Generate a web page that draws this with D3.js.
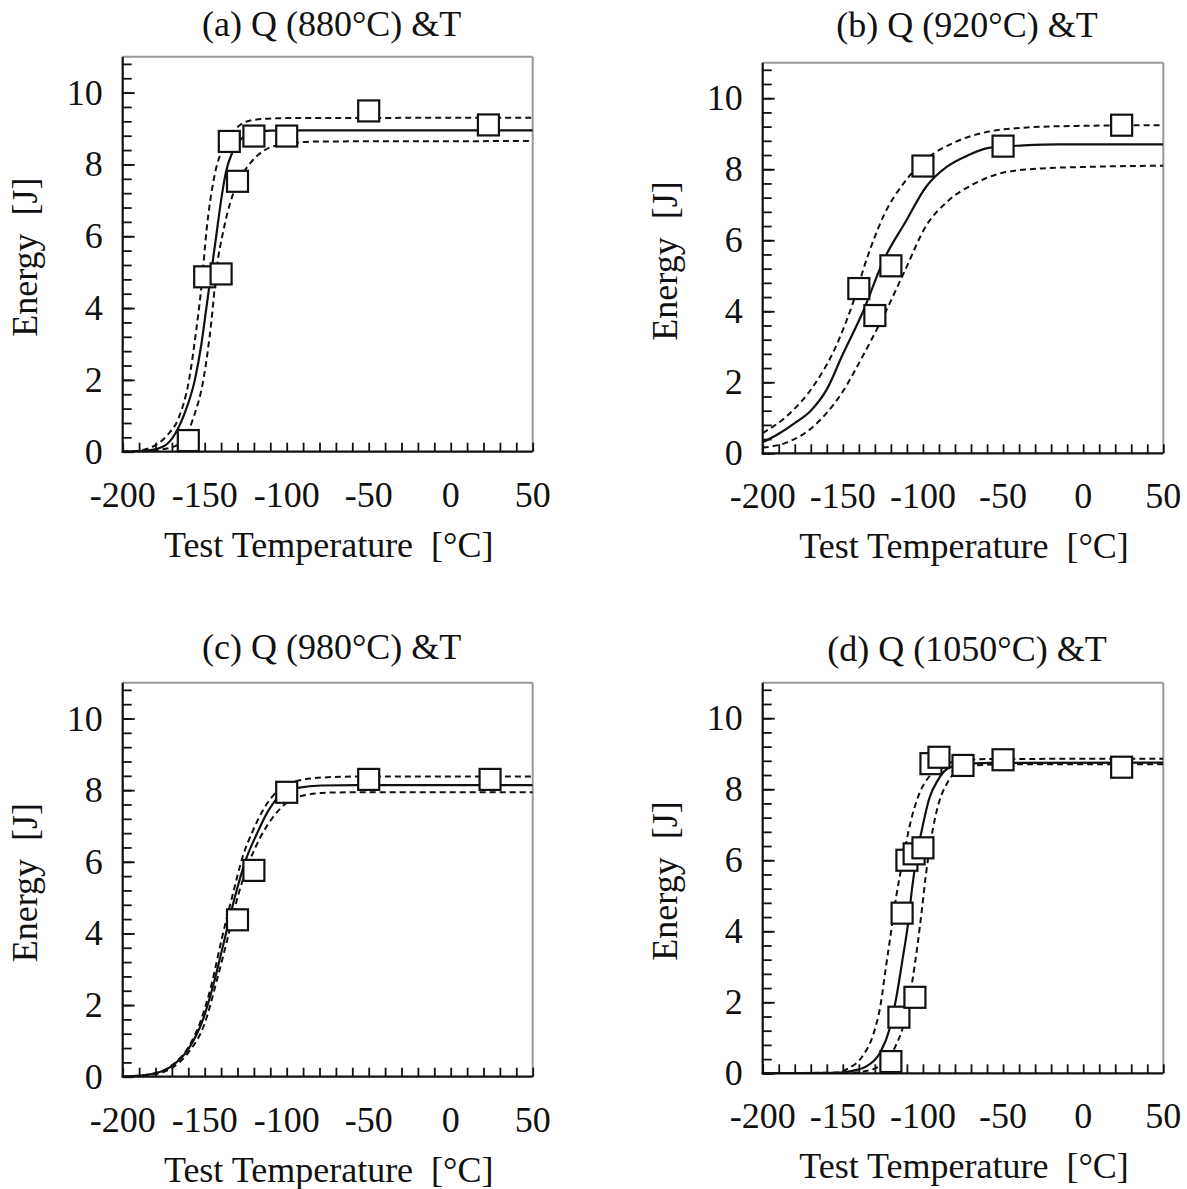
<!DOCTYPE html>
<html>
<head>
<meta charset="utf-8">
<script src="https://cdn.jsdelivr.net/npm/d3@7/dist/d3.min.js"></script>
<style>
  html, body { margin: 0; padding: 0; background: #fff; }
  svg { display: block; }
  text { font-family: "Liberation Serif", "Times New Roman", serif; fill: #111; }
</style>
</head>
<body>
<svg id="chart" width="1187" height="1189"></svg>
<script>
// ---------------- DATA ----------------
const panelTitles = ["(a) Q (880°C) &T", "(b) Q (920°C) &T", "(c) Q (980°C) &T", "(d) Q (1050°C) &T"];
const xTickValues = [-200, -150, -100, -50, 0, 50];
const yTickValues = [0, 2, 4, 6, 8, 10];
const xLabel = "Test Temperature  [°C]";
const yLabel = "Energy  [J]";

// measured points (test temperature °C, absorbed energy J)
const aPointsT = [-160, -150, -140, -135, -130, -120, -100, -50, 23];
const aPointsE = [0.31, 4.87, 4.95, 8.64, 7.53, 8.79, 8.79, 9.49, 9.10];
const bPointsT = [-140, -130, -120, -100, -50, 24];
const bPointsE = [4.64, 3.88, 5.28, 8.09, 8.65, 9.24];
const cPointsT = [-130, -120, -100, -50, 24];
const cPointsE = [4.38, 5.76, 7.94, 8.30, 8.30];
const dPointsT = [-120, -115, -105, -113, -110, -105.5, -100, -95, -90, -75, -50, 24];
const dPointsE = [0.33, 1.58, 2.14, 4.51, 6.00, 6.18, 6.35, 8.72, 8.90, 8.67, 8.83, 8.62];

// fitted curves: [T, E]
const aMean  = [[-200,0],[-185,0.03],[-175,0.15],[-168,0.5],[-162,1.1],[-156,2.0],[-152,3.0],[-149,4.0],[-146,5.0],[-143,6.0],[-140,7.0],[-137,7.8],[-133,8.35],[-128,8.7],[-120,8.88],[-110,8.94],[-90,8.95],[50,8.95]];
const aUpper = [[-200,0],[-190,0.03],[-183.7,0.1],[-172.8,0.46],[-166,0.93],[-159.7,1.96],[-155.4,3.3],[-152,4.6],[-148.8,6.2],[-144.4,7.6],[-139,8.46],[-131.4,8.98],[-120.5,9.24],[-101,9.29],[50,9.3]];
const aLower = [[-200,0],[-190,0.01],[-178,0.05],[-166,0.2],[-157,0.93],[-150.6,2.06],[-146,3.6],[-142.8,5.06],[-138.4,6.2],[-134,7.0],[-128.6,7.6],[-122,8.05],[-113.4,8.4],[-101,8.57],[-79,8.64],[50,8.65]];

const bMean  = [[-200,0.31],[-190,0.55],[-180,0.85],[-170,1.2],[-160,1.8],[-150.3,2.76],[-137.3,4.0],[-124.2,5.47],[-111.1,6.5],[-98.1,7.5],[-85,8.07],[-72,8.39],[-58.9,8.6],[-37,8.67],[-15.3,8.7],[50,8.7]];
const bUpper = [[-200,0.57],[-185.2,1.04],[-167.8,1.93],[-154.7,2.97],[-143.8,4.22],[-135.1,5.47],[-124.2,6.72],[-111.1,7.66],[-98.1,8.28],[-80.7,8.75],[-58.9,9.06],[-37,9.17],[-4.4,9.22],[50,9.24]];
const bLower = [[-200,0.16],[-185.2,0.3],[-167.8,0.78],[-150.3,1.72],[-137.3,2.76],[-124.2,3.9],[-111.1,5.16],[-98.1,6.4],[-85,7.08],[-67.6,7.6],[-50.2,7.9],[-26.2,8.02],[6.4,8.07],[50,8.1]];

const cMean  = [[-200,0],[-181.5,0.08],[-170.6,0.28],[-159.7,0.79],[-151,1.6],[-144.5,2.6],[-137.9,3.83],[-131.4,5.05],[-124.9,6.06],[-118.3,6.77],[-111.8,7.38],[-103.1,7.89],[-92.2,8.07],[-79.1,8.13],[-57.4,8.14],[50,8.14]];
const cUpper = [[-200,0],[-181.5,0.08],[-170.6,0.3],[-159.7,0.84],[-152.1,1.6],[-145.6,2.62],[-139.7,3.83],[-133.1,5.05],[-127,6.12],[-120.5,6.88],[-114,7.48],[-105.3,7.99],[-94.4,8.25],[-79.1,8.35],[-57.4,8.38],[50,8.38]];
const cLower = [[-200,0],[-181.5,0.06],[-170.6,0.23],[-159.7,0.69],[-149.9,1.5],[-143,2.62],[-136.2,3.83],[-129.7,5.05],[-122.7,6.01],[-116.2,6.67],[-108.6,7.23],[-98.8,7.69],[-87.9,7.87],[-74.9,7.93],[-57.4,7.94],[50,7.94]];

const dMean  = [[-200,0],[-154.7,0.01],[-143.8,0.07],[-135.1,0.2],[-126.4,0.61],[-121,1.22],[-116.6,2.14],[-112.9,3.16],[-109.4,4.18],[-106.8,5.2],[-103.5,6.22],[-100.3,6.94],[-95.9,7.76],[-90.5,8.27],[-85,8.57],[-76.3,8.7],[-58.9,8.74],[50,8.75]];
const dUpper = [[-200,0],[-154.7,0.02],[-146,0.15],[-137.3,0.51],[-130.8,1.12],[-126.4,1.94],[-123.2,2.96],[-119.9,3.98],[-116.6,5.0],[-112.9,5.92],[-107.9,7.04],[-102.4,7.86],[-95.9,8.37],[-87.2,8.67],[-76.3,8.81],[-58.9,8.85],[50,8.86]];
const dLower = [[-200,0],[-148.2,0.01],[-137.3,0.05],[-126.4,0.22],[-117.7,0.71],[-111.1,1.53],[-106.8,2.55],[-103.5,3.57],[-100.7,4.59],[-98.1,5.61],[-94.8,6.63],[-90.5,7.55],[-85,8.16],[-78.5,8.52],[-67.6,8.67],[-48,8.7],[50,8.7]];

// ---------------- LAYOUT ----------------
const panels = [
  { title: panelTitles[0], left: 122.7, right: 532.7, top: 56.7, bottom: 451.7, titleY: 36,
    T: aPointsT, E: aPointsE, mean: aMean, upper: aUpper, lower: aLower },
  { title: panelTitles[1], left: 762.7, right: 1163.3, top: 62.7, bottom: 453.3, titleY: 37,
    T: bPointsT, E: bPointsE, mean: bMean, upper: bUpper, lower: bLower },
  { title: panelTitles[2], left: 122.7, right: 532.7, top: 682.7, bottom: 1076.7, titleY: 659,
    T: cPointsT, E: cPointsE, mean: cMean, upper: cUpper, lower: cLower },
  { title: panelTitles[3], left: 762.7, right: 1163.3, top: 682.7, bottom: 1073.3, titleY: 661,
    T: dPointsT, E: dPointsE, mean: dMean, upper: dUpper, lower: dLower }
];

const FS = 36;
const svg = d3.select("#chart");
const defs = svg.append("defs");

panels.forEach((p, i) => {
  const x = d3.scaleLinear().domain([-200, 50]).range([p.left, p.right]);
  const y = d3.scaleLinear().domain([0, 11]).range([p.bottom, p.top]);
  const g = svg.append("g");
  const cx = (p.left + p.right) / 2;
  const cy = (p.top + p.bottom) / 2;

  defs.append("clipPath").attr("id", "clip" + i)
    .append("rect").attr("x", p.left).attr("y", p.top - 15)
    .attr("width", p.right - p.left).attr("height", p.bottom - p.top + 15);

  // frame: top & right grey
  g.append("line").attr("x1", p.left).attr("x2", p.right).attr("y1", p.top).attr("y2", p.top)
    .attr("stroke", "#999").attr("stroke-width", 2);
  g.append("line").attr("x1", p.right).attr("x2", p.right).attr("y1", p.top).attr("y2", p.bottom)
    .attr("stroke", "#999").attr("stroke-width", 2);

  // minor ticks via axes (inward)
  const yMinor = d3.range(0, 11.0001, 0.4).map(v => +v.toFixed(1));
  const xMinor = d3.range(-200, 50.001, 10);

  const yAxisMinor = d3.axisRight(y).tickValues(yMinor).tickSize(9).tickFormat("");
  const yAxisMajor = d3.axisRight(y).tickValues(yTickValues).tickSize(12).tickFormat("");
  const xAxisMinor = d3.axisTop(x).tickValues(xMinor).tickSize(9).tickFormat("");

  [yAxisMinor, yAxisMajor].forEach(ax => {
    const a = g.append("g").attr("transform", `translate(${p.left},0)`).call(ax);
    a.select(".domain").remove();
    a.selectAll(".tick line").attr("stroke", "#111").attr("stroke-width", 1.8);
  });
  const xa = g.append("g").attr("transform", `translate(0,${p.bottom})`).call(xAxisMinor);
  xa.select(".domain").remove();
  xa.selectAll(".tick line").attr("stroke", "#111").attr("stroke-width", 1.8);

  // left & bottom axis lines (black)
  g.append("line").attr("x1", p.left).attr("x2", p.left).attr("y1", p.top).attr("y2", p.bottom + 1)
    .attr("stroke", "#111").attr("stroke-width", 2.2);
  g.append("line").attr("x1", p.left - 1).attr("x2", p.right).attr("y1", p.bottom).attr("y2", p.bottom)
    .attr("stroke", "#111").attr("stroke-width", 2.2);

  // tick labels
  g.selectAll(".ylab").data(yTickValues).enter().append("text")
    .attr("x", p.left - 20).attr("y", d => y(d) + 12)
    .attr("text-anchor", "end").attr("font-size", FS).text(d => d);
  g.selectAll(".xlab").data(xTickValues).enter().append("text")
    .attr("x", d => x(d)).attr("y", p.bottom + 55)
    .attr("text-anchor", "middle").attr("font-size", FS).text(d => d);

  // axis titles
  g.append("text").attr("x", cx + 1).attr("y", p.bottom + 105)
    .attr("text-anchor", "middle").attr("font-size", FS).style("white-space", "pre").text(xLabel);
  g.append("text").attr("transform", `translate(${p.left - 86},${cy + 3}) rotate(-90)`)
    .attr("text-anchor", "middle").attr("font-size", FS).style("white-space", "pre").text(yLabel);

  // panel title
  g.append("text").attr("x", cx + 4).attr("y", p.titleY)
    .attr("text-anchor", "middle").attr("font-size", FS).text(p.title);

  // curves
  const line = d3.line().x(d => x(d[0])).y(d => y(d[1])).curve(d3.curveMonotoneX);
  const cg = g.append("g").attr("clip-path", `url(#clip${i})`);
  cg.append("path").attr("d", line(p.upper)).attr("fill", "none")
    .attr("stroke", "#111").attr("stroke-width", 2).attr("stroke-dasharray", "6,4");
  cg.append("path").attr("d", line(p.lower)).attr("fill", "none")
    .attr("stroke", "#111").attr("stroke-width", 2).attr("stroke-dasharray", "6,4");
  cg.append("path").attr("d", line(p.mean)).attr("fill", "none")
    .attr("stroke", "#111").attr("stroke-width", 2.2);

  // markers
  const S = 21;
  const pts = p.T.map((t, k) => ({ t: t, e: p.E[k] }));
  g.selectAll(".pt").data(pts).enter().append("rect")
    .attr("x", d => x(d.t) - S / 2).attr("y", d => y(d.e) - S / 2)
    .attr("width", S).attr("height", S)
    .attr("fill", "#fff").attr("stroke", "#111").attr("stroke-width", 2.2);
});
</script>
</body>
</html>
